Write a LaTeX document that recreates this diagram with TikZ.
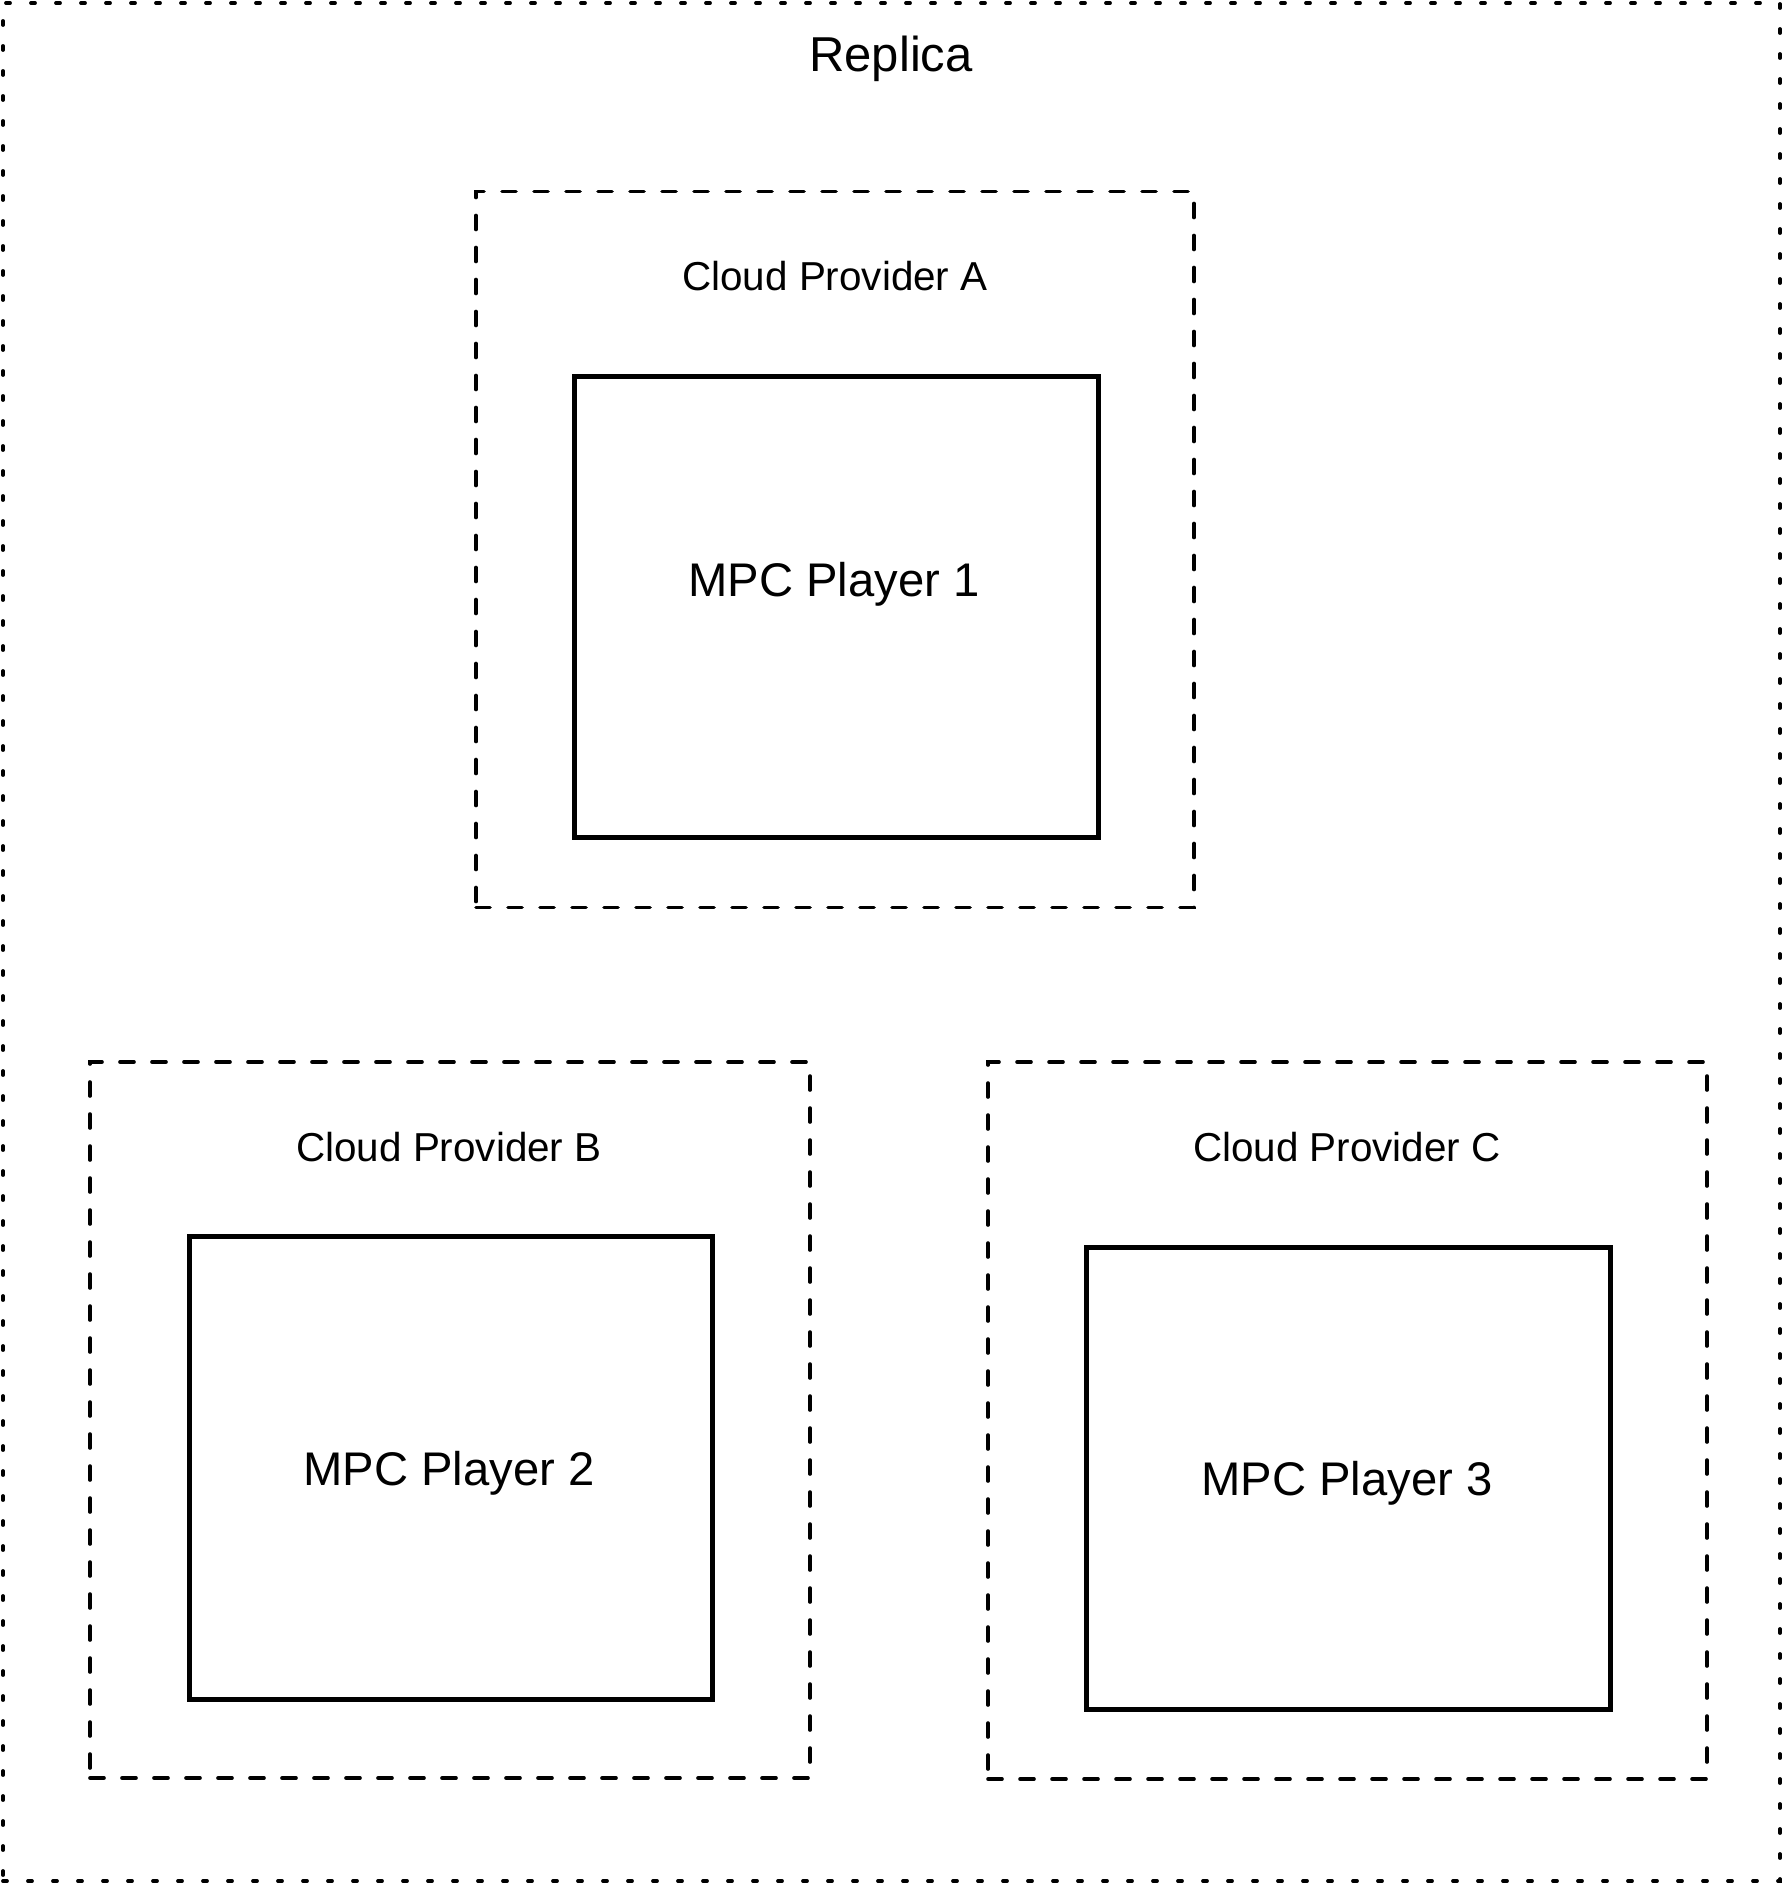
\documentclass[tikz,border=0pt]{standalone}
\usepackage{fontspec}
\setmainfont{Liberation Sans}
\begin{document}
\begin{tikzpicture}[x=0.5pt,y=-0.5pt,
  outerbox/.style={draw, line width=1.9pt, line cap=round, dash pattern=on 2pt off 10.5pt, inner sep=0pt, anchor=center},
  cloudbox/.style={draw, line width=1.8pt, line cap=round, dash pattern=on 7pt off 9pt, inner sep=0pt, anchor=center},
  playerbox/.style={draw, line width=2.5pt, inner sep=0pt, anchor=center},
  titletext/.style={font=\fontsize{24.5pt}{28pt}\selectfont, anchor=base, inner sep=0pt},
  cloudtext/.style={font=\fontsize{20.2pt}{24pt}\selectfont, anchor=base, inner sep=0pt},
  playertext/.style={font=\fontsize{23.6pt}{28pt}\selectfont, anchor=base, inner sep=0pt}]
\useasboundingbox (0,0) rectangle (1783,1884);
\node[outerbox, minimum width=888.5pt, minimum height=939pt] (replica) at (891.5,942) {};
\node[titletext] (replicalabel) at (891,72) {Replica};
\node[cloudbox, minimum width=359pt, minimum height=358pt] (cloudA) at (835,549.5) {};
\node[cloudtext] (cloudAlabel) at (835,290) {Cloud Provider A};
\node[playerbox, minimum width=262pt, minimum height=230.5pt] (player1) at (836,606.5) {};
\node[playertext] (player1label) at (834,596) {MPC Player 1};
\node[cloudbox, minimum width=360pt, minimum height=358pt] (cloudB) at (450,1420) {};
\node[cloudtext] (cloudBlabel) at (449,1161) {Cloud Provider B};
\node[playerbox, minimum width=261.5pt, minimum height=231.5pt] (player2) at (450.5,1467.5) {};
\node[playertext] (player2label) at (449,1485) {MPC Player 2};
\node[cloudbox, minimum width=359.5pt, minimum height=358.5pt] (cloudC) at (1347.5,1420.5) {};
\node[cloudtext] (cloudClabel) at (1347,1161) {Cloud Provider C};
\node[playerbox, minimum width=262pt, minimum height=231pt] (player3) at (1348,1478) {};
\node[playertext] (player3label) at (1347,1495) {MPC Player 3};
\end{tikzpicture}
\end{document}
